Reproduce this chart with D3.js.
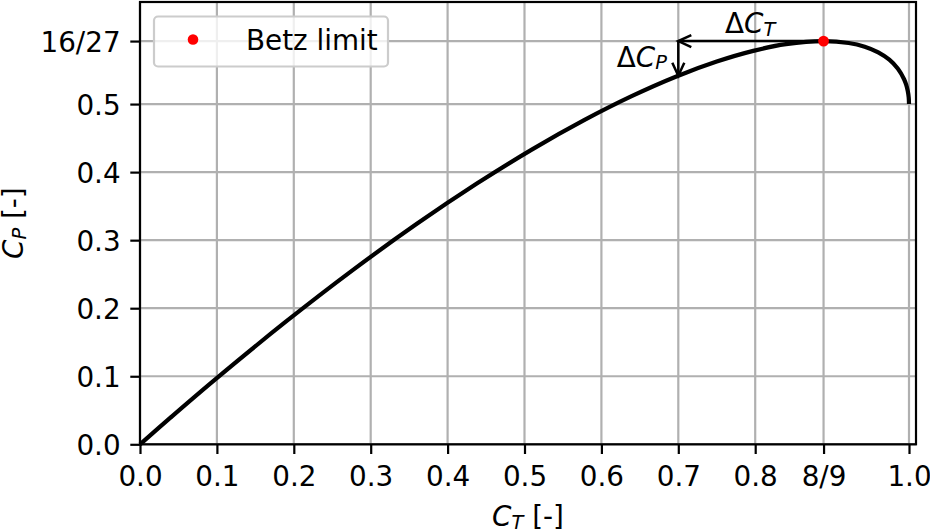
<!DOCTYPE html>
<html>
<head>
<meta charset="utf-8">
<script src="https://cdn.jsdelivr.net/npm/d3@7"></script>
<style>
  body { margin: 0; background: #fff; }
  text { font-family: "DejaVu Sans", sans-serif; fill: #000; }
</style>
</head>
<body>
<svg class="chart" width="930" height="532"></svg>
<script>
// thrust coefficient / power coefficient
const ctValues = [0, 0.0396, 0.0975, 0.19, 0.2775, 0.36, 0.4375, 0.51, 0.5775, 0.64, 0.6975,
    0.75, 0.7975, 0.84, 0.8889, 0.9216, 0.9424, 0.96, 0.9744, 0.9856, 0.9936, 0.9964, 0.9984, 0.9996, 1.0];
const cpValues = [0, 0.0392, 0.0951, 0.1805, 0.2567, 0.324, 0.3828, 0.4335, 0.4764, 0.512, 0.5406,
    0.5625, 0.5782, 0.588, 0.5926, 0.5898, 0.5843, 0.576, 0.5652, 0.5519, 0.5365, 0.5281, 0.5192, 0.5098, 0.5];

const betzPoint = [8 / 9, 16 / 27];
const arrowCorner = [0.7, 16 / 27];
const arrowEnd = [0.7, 0.5417];

const xTicks = [0, 0.1, 0.2, 0.3, 0.4, 0.5, 0.6, 0.7, 0.8, 8 / 9, 1.0];
const xTickLabels = ['0.0', '0.1', '0.2', '0.3', '0.4', '0.5', '0.6', '0.7', '0.8', '8/9', '1.0'];
const yTicks = [0, 0.1, 0.2, 0.3, 0.4, 0.5, 16 / 27];
const yTickLabels = ['0.0', '0.1', '0.2', '0.3', '0.4', '0.5', '16/27'];

const svg = d3.select('.chart');
const margin = { left: 140, top: 2, right: 14, bottom: 87.7 };
const width = 930 - margin.left - margin.right;
const height = 532 - margin.top - margin.bottom;
const fs = 27.8;

const x = d3.scaleLinear().domain([0, 1.0091]).range([0, width]);
const y = d3.scaleLinear().domain([0, 0.65]).range([height, 0]);

const g = svg.append('g').attr('transform', `translate(${margin.left},${margin.top})`);

// grid
g.append('g').selectAll('line').data(xTicks).enter().append('line')
    .attr('x1', d => x(d)).attr('x2', d => x(d))
    .attr('y1', 0).attr('y2', height)
    .attr('stroke', '#b0b0b0').attr('stroke-width', 2.2);
g.append('g').selectAll('line').data(yTicks).enter().append('line')
    .attr('y1', d => y(d)).attr('y2', d => y(d))
    .attr('x1', 0).attr('x2', width)
    .attr('stroke', '#b0b0b0').attr('stroke-width', 2.2);

// axes
const xAxis = d3.axisBottom(x).tickValues(xTicks)
    .tickFormat((d, i) => xTickLabels[i]).tickSize(9.7).tickPadding(9.7);
const yAxis = d3.axisLeft(y).tickValues(yTicks)
    .tickFormat((d, i) => yTickLabels[i]).tickSize(9.7).tickPadding(9.7);

const xAxisG = g.append('g').attr('transform', `translate(0,${height})`).call(xAxis);
const yAxisG = g.append('g').call(yAxis);
[xAxisG, yAxisG].forEach(ax => {
    ax.select('.domain').remove();
    ax.selectAll('.tick line').attr('stroke', '#000').attr('stroke-width', 2.2);
    ax.selectAll('.tick text').attr('font-size', fs).attr('font-family', 'DejaVu Sans').attr('fill', '#000');
});
xAxisG.selectAll('.tick text').attr('dy', null).attr('y', 42.2);
yAxisG.selectAll('.tick text').attr('dy', '0.36em');

// curve
const curveData = ctValues.map((c, i) => [c, cpValues[i]]);
g.append('path')
    .datum(curveData)
    .attr('fill', 'none')
    .attr('stroke', '#000')
    .attr('stroke-width', 4.2)
    .attr('d', d3.line().x(d => x(d[0])).y(d => y(d[1])).curve(d3.curveCatmullRom.alpha(0.5)));

// annotation arrows
const arrowHead = (tip, dir) => {
    const L = 13, W = 6;
    const [tx, ty] = tip;
    const [dx, dy] = dir;
    const px = -dy, py = dx;
    return `M${tx - dx * L + px * W},${ty - dy * L + py * W}L${tx},${ty}L${tx - dx * L - px * W},${ty - dy * L - py * W}`;
};
const ax0 = [x(betzPoint[0]), y(betzPoint[1])];
const ax1 = [x(arrowCorner[0]), y(arrowCorner[1])];
const ax2 = [x(arrowEnd[0]), y(arrowEnd[1])];
const arrows = g.append('g').attr('fill', 'none').attr('stroke', '#000').attr('stroke-width', 2.5);
arrows.append('path').attr('d', `M${ax0[0]},${ax0[1]}L${ax1[0]},${ax1[1]}`);
arrows.append('path').attr('d', arrowHead(ax1, [-1, 0]));
arrows.append('path').attr('d', `M${ax1[0]},${ax1[1]}L${ax2[0]},${ax2[1]}`);
arrows.append('path').attr('d', arrowHead(ax2, [0, 1]));

const mathLabel = (sel, sub) => {
    sel.append('tspan').attr('font-style', 'italic').text('C');
    sel.append('tspan').attr('font-style', 'italic').attr('font-size', fs * 0.7).attr('dy', 2.5).text(sub);
};
const dT = g.append('text').attr('x', x(0.7607)).attr('y', y(0.6043)).attr('font-size', fs);
dT.append('tspan').text('Δ');
mathLabel(dT, 'T');
const dP = g.append('text').attr('x', x(0.620)).attr('y', y(0.5546)).attr('font-size', fs);
dP.append('tspan').text('Δ');
mathLabel(dP, 'P');

// Betz point
g.append('circle').attr('cx', x(betzPoint[0])).attr('cy', y(betzPoint[1])).attr('r', 5.4).attr('fill', '#ff0000');

// spines
g.append('rect').attr('width', width).attr('height', height)
    .attr('fill', 'none').attr('stroke', '#000').attr('stroke-width', 2.2);

// axis labels
const xl = svg.append('text').attr('x', margin.left + width / 2).attr('y', 526)
    .attr('text-anchor', 'middle').attr('font-size', fs);
mathLabel(xl, 'T');
xl.append('tspan').attr('dy', -2.5).text(' [-]');

const yl = svg.append('text')
    .attr('transform', `translate(23,${margin.top + height / 2}) rotate(-90)`)
    .attr('text-anchor', 'middle').attr('font-size', fs);
mathLabel(yl, 'P');
yl.append('tspan').attr('dy', -2.5).text(' [-]');

// legend
const lg = svg.append('g');
lg.append('rect').attr('x', 154).attr('y', 16.5).attr('width', 234).attr('height', 50)
    .attr('rx', 4).attr('fill', '#fff').attr('fill-opacity', 0.8)
    .attr('stroke', '#cccccc').attr('stroke-width', 2.2);
lg.append('circle').attr('cx', 193).attr('cy', 39.5).attr('r', 5.3).attr('fill', '#ff0000');
lg.append('text').attr('x', 246).attr('y', 49.5).attr('font-size', fs).text('Betz limit');
</script>
</body>
</html>
